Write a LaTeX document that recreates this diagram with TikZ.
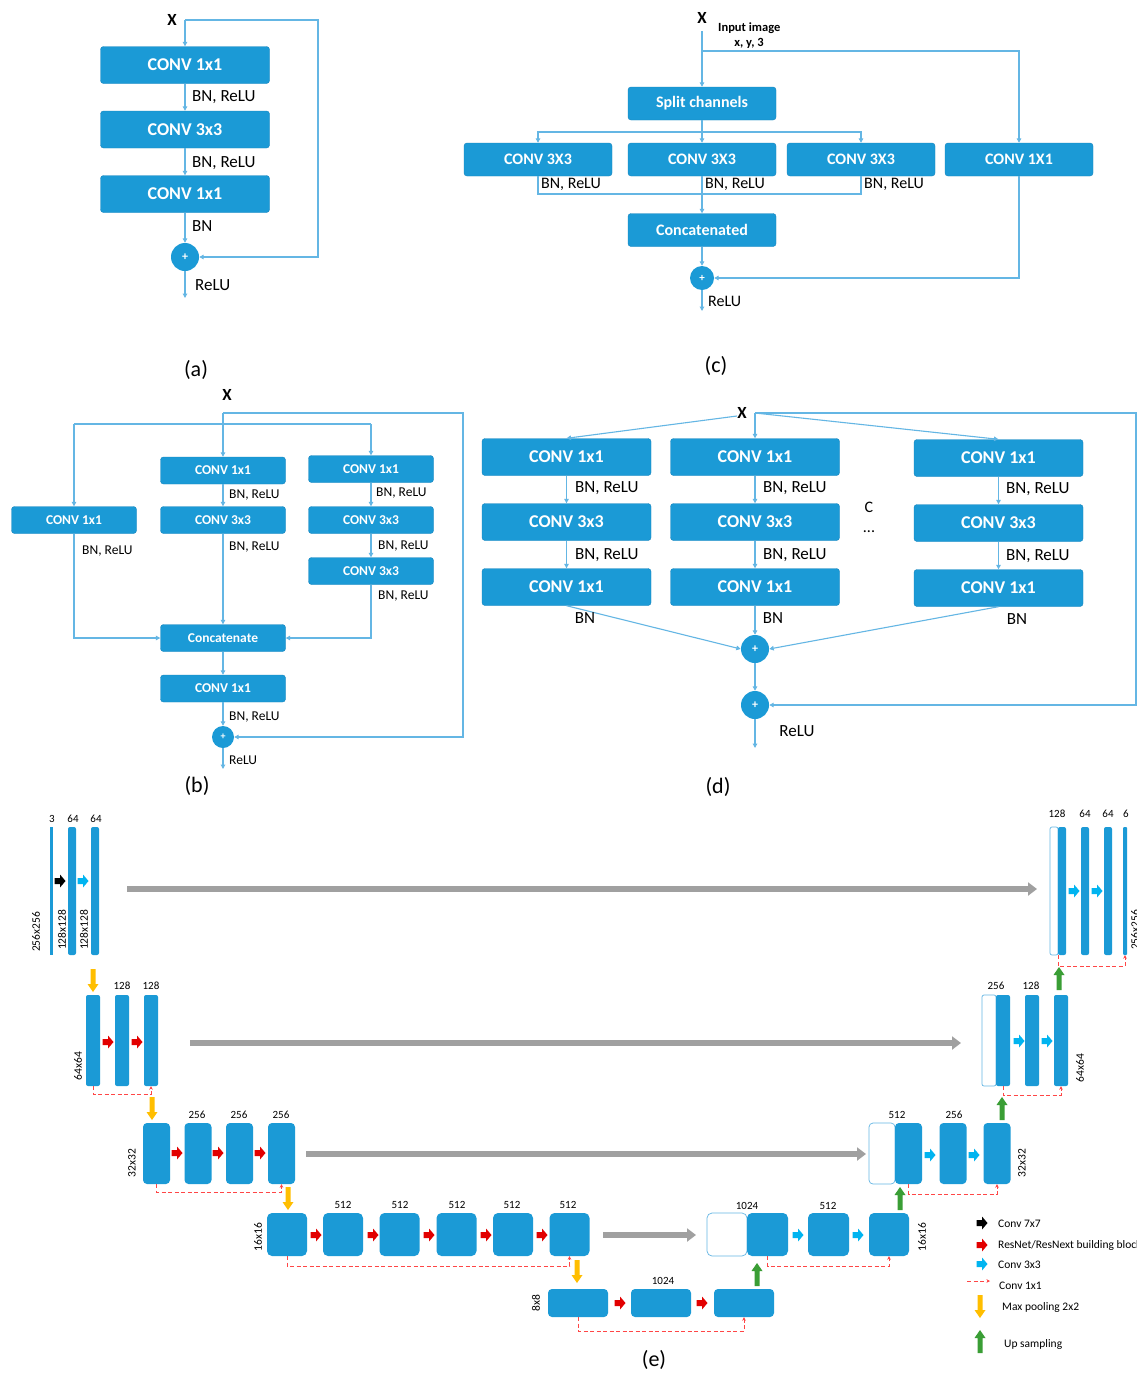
\documentclass[tikz,border=0pt]{standalone}
\usepackage{fontspec}
\setmainfont{Carlito}
\usetikzlibrary{arrows.meta}
\definecolor{boxblue}{RGB}{27,154,214}
\definecolor{boxedge}{RGB}{22,132,190}
\definecolor{lineblue}{RGB}{100,182,228}
\definecolor{arrred}{RGB}{226,0,0}
\definecolor{arrcyan}{RGB}{0,180,240}
\definecolor{arryel}{RGB}{255,190,0}
\definecolor{arrgreen}{RGB}{58,158,53}
\definecolor{skipgray}{RGB}{160,160,160}
\definecolor{dashred}{RGB}{255,70,70}
\tikzset{
 box/.style={rectangle, rounded corners=3pt, fill=boxblue, draw=boxedge, line width=0.4pt, text=white, inner sep=0pt},
 boxL/.style={box, minimum width=169pt, minimum height=37pt, font=\bfseries\fontsize{18}{18}\selectfont},
 boxC/.style={box, minimum width=148pt, minimum height=33pt, font=\bfseries\fontsize{16}{16}\selectfont},
 boxB/.style={box, minimum width=125pt, minimum height=27pt, font=\bfseries\fontsize{13.5}{13.5}\selectfont},
 sumL/.style={circle, fill=boxblue, text=white, inner sep=0pt, minimum size=28pt, font=\bfseries\fontsize{12}{12}\selectfont},
 sumC/.style={circle, fill=boxblue, text=white, inner sep=0pt, minimum size=24pt, font=\bfseries\fontsize{11}{11}\selectfont},
 sumB/.style={circle, fill=boxblue, text=white, inner sep=0pt, minimum size=22pt, font=\bfseries\fontsize{10}{10}\selectfont},
 cline/.style={draw=lineblue, line width=1.1pt},
 cl/.style={cline, -{Triangle[length=4.5pt,width=4.5pt]}},
 xl/.style={font=\bfseries\fontsize{17}{17}\selectfont, inner sep=0pt},
 lblA/.style={font=\fontsize{17}{17}\selectfont, inner sep=0pt},
 lblC/.style={font=\fontsize{16}{16}\selectfont, inner sep=0pt},
 lblB/.style={font=\fontsize{13.5}{13.5}\selectfont, inner sep=0pt},
 smallb/.style={font=\bfseries\fontsize{12.5}{12.5}\selectfont, inner sep=0pt},
 capt/.style={font=\fontsize{22}{22}\selectfont, inner sep=0pt},
 elbl/.style={font=\fontsize{11}{11}\selectfont, inner sep=0pt},
 rlbl/.style={font=\fontsize{11.5}{11.5}\selectfont, inner sep=0pt, rotate=90},
 legtxt/.style={font=\fontsize{11.5}{11.5}\selectfont, inner sep=0pt, anchor=west},
 ebar/.style={rectangle, fill=boxblue, rounded corners=2pt, inner sep=0pt},
 wbar/.style={rectangle, draw=lineblue, fill=white, line width=0.7pt, rounded corners=2pt, inner sep=0pt},
 skiparr/.style={draw=skipgray, line width=5.5pt, -{Triangle[length=9pt,width=13pt]}},
 rdash/.style={draw=dashred, line width=0.9pt, dash pattern=on 4pt off 2.5pt, -{Stealth[length=3.5pt,width=3.5pt]}},
 rarr/.pic={\fill[pic actions] (-5.5,-3) -- (0,-3) -- (0,-6.5) -- (5.5,0) -- (0,6.5) -- (0,3) -- (-5.5,3) -- cycle;},
 darr/.pic={\fill[pic actions] (-2.5,0) -- (2.5,0) -- (2.5,15) -- (5.5,15) -- (0,23) -- (-5.5,15) -- (-2.5,15) -- cycle;},
 uarr/.pic={\fill[pic actions] (-2.5,0) -- (2.5,0) -- (2.5,-15) -- (5.5,-15) -- (0,-23) -- (-5.5,-15) -- (-2.5,-15) -- cycle;}
}
\begin{document}
\begin{tikzpicture}[x=1pt,y=-1pt]
\useasboundingbox (0,0) rectangle (1137,1373);
\fill[white] (0,0) rectangle (1137,1373);

%% ---------------- (a) ----------------
\node[xl] (aX) at (172,20) {X};
\coordinate (a0) at (185,20);
\node[boxL] (a1) at (185,65) {CONV 1x1};
\node[boxL] (a2) at (185,129.5) {CONV 3x3};
\node[boxL] (a3) at (185,194) {CONV 1x1};
\node[sumL] (aS) at (185,257) {+};
\coordinate (aO) at (185,298);
\draw[cl] (a0) -- (a1);
\draw[cl] (a1) -- (a2);
\draw[cl] (a2) -- (a3);
\draw[cl] (a3) -- (aS);
\draw[cl] (aS) -- (aO);
\draw[cl] (a0) -- ++(133,0) |- (aS);
\node[lblA, anchor=west] (aL1) at (192,97) {BN, ReLU};
\node[lblA, anchor=west] (aL2) at (192,163) {BN, ReLU};
\node[lblA, anchor=west] (aL3) at (192,226) {BN};
\node[lblA, anchor=west] (aL4) at (195,285) {ReLU};
\node[capt] (aC) at (196,370) {(a)};

%% ---------------- (c) ----------------
\node[xl] (cX) at (702,18) {X};
\coordinate (c0) at (702,31);
\coordinate (cT) at (702,51);
\node[smallb, anchor=west] (cI1) at (718,28) {Input image};
\node[smallb] (cI2) at (749,43) {x, y, 3};
\node[boxC] (cS) at (702,103.5) {Split channels};
\coordinate (cB) at (702,132);
\node[boxC] (c1) at (538,159.5) {CONV 3X3};
\node[boxC] (c2) at (702,159.5) {CONV 3X3};
\node[boxC] (c3) at (861,159.5) {CONV 3X3};
\node[boxC] (c4) at (1019,159.5) {CONV 1X1};
\coordinate (cJ) at (702,194);
\node[boxC] (cK) at (702,230) {Concatenated};
\node[sumC] (cSum) at (702,278) {+};
\coordinate (cO) at (702,311);
\draw[cline] (c0) -- (cT);
\draw[cl] (cT) -- (cS);
\draw[cl] (cT) -| (c4);
\draw[cline] (cS) -- (cB);
\draw[cl] (cB) -| (c1);
\draw[cl] (cB) -- (c2);
\draw[cl] (cB) -| (c3);
\draw[cline] (c1) |- (cJ);
\draw[cline] (c3) |- (cJ);
\draw[cl] (c2) -- (cK);
\draw[cl] (cK) -- (cSum);
\draw[cl] (c4) |- (cSum);
\draw[cl] (cSum) -- (cO);
\node[lblC, anchor=west] (cL1) at (541,184) {BN, ReLU};
\node[lblC, anchor=west] (cL2) at (705,184) {BN, ReLU};
\node[lblC, anchor=west] (cL3) at (864,184) {BN, ReLU};
\node[lblC, anchor=west] (cL4) at (708,301) {ReLU};
\node[capt] (cC) at (716,366) {(c)};

%% ---------------- (b) ----------------
\node[xl] (bX) at (227,395) {X};
\coordinate (b0) at (223,413);
\coordinate (bL) at (74,424);
\coordinate (bR) at (371,424);
\node[boxB] (bl) at (74,520) {CONV 1x1};
\node[boxB] (bm1) at (223,470.5) {CONV 1x1};
\node[boxB] (bm2) at (223,520) {CONV 3x3};
\node[boxB] (bcat) at (223,638) {Concatenate};
\node[boxB] (bm3) at (223,688.5) {CONV 1x1};
\node[boxB] (br1) at (371,469) {CONV 1x1};
\node[boxB] (br2) at (371,520) {CONV 3x3};
\node[boxB] (br3) at (371,571) {CONV 3x3};
\node[sumB] (bS) at (223,737) {+};
\coordinate (bO) at (223,769);
\draw[cl] (b0) -- (bm1);
\draw[cline] (bL) -- (bR);
\draw[cl] (bL) -- (bl);
\draw[cl] (bR) -- (br1);
\draw[cl] (bm1) -- (bm2);
\draw[cl] (bm2) -- (bcat);
\draw[cl] (br1) -- (br2);
\draw[cl] (br2) -- (br3);
\draw[cl] (bl) |- (bcat);
\draw[cl] (br3) |- (bcat);
\draw[cl] (bcat) -- (bm3);
\draw[cl] (bm3) -- (bS);
\draw[cl] (bS) -- (bO);
\draw[cl] (b0) -- ++(240,0) |- (bS);
\node[lblB, anchor=west] (bL1) at (229,495) {BN, ReLU};
\node[lblB, anchor=west] (bL2) at (229,547) {BN, ReLU};
\node[lblB, anchor=west] (bL3) at (82,551) {BN, ReLU};
\node[lblB, anchor=west] (bL4) at (376,493) {BN, ReLU};
\node[lblB, anchor=west] (bL5) at (378,546) {BN, ReLU};
\node[lblB, anchor=west] (bL6) at (378,596) {BN, ReLU};
\node[lblB, anchor=west] (bL7) at (229,717) {BN, ReLU};
\node[lblB, anchor=west] (bL8) at (229,760) {ReLU};
\node[capt] (bC) at (197,786) {(b)};

%% ---------------- (d) ----------------
\node[xl] (dX) at (742,413) {X};
\coordinate (d0) at (755,413);
\coordinate (d0l) at (737,416);
\node[boxL] (d11) at (566.5,457) {CONV 1x1};
\node[boxL] (d12) at (566.5,522) {CONV 3x3};
\node[boxL] (d13) at (566.5,587) {CONV 1x1};
\node[boxL] (d21) at (755,457) {CONV 1x1};
\node[boxL] (d22) at (755,522) {CONV 3x3};
\node[boxL] (d23) at (755,587) {CONV 1x1};
\node[boxL] (d31) at (998.5,458) {CONV 1x1};
\node[boxL] (d32) at (998.5,523) {CONV 3x3};
\node[boxL] (d33) at (998.5,588) {CONV 1x1};
\node[sumL] (dS1) at (755,649) {+};
\node[sumL] (dS2) at (755,705) {+};
\coordinate (dO) at (755,748);
\draw[cl] (d0l) -- (d11.north);
\draw[cl] (d0) -- (d21);
\draw[cl] (d0) -- (d31.north);
\draw[cl] (d11) -- (d12);
\draw[cl] (d12) -- (d13);
\draw[cl] (d21) -- (d22);
\draw[cl] (d22) -- (d23);
\draw[cl] (d31) -- (d32);
\draw[cl] (d32) -- (d33);
\draw[cl] (d13.south) -- (dS1.west);
\draw[cl] (d23) -- (dS1);
\draw[cl] (d33.south) -- (dS1.east);
\draw[cl] (dS1) -- (dS2);
\draw[cl] (dS2) -- (dO);
\draw[cl] (d0) -- ++(381,0) |- (dS2);
\node[lblA, anchor=west] (dL1) at (575,488) {BN, ReLU};
\node[lblA, anchor=west] (dL2) at (575,555) {BN, ReLU};
\node[lblA, anchor=west] (dL3) at (763,488) {BN, ReLU};
\node[lblA, anchor=west] (dL4) at (763,555) {BN, ReLU};
\node[lblA, anchor=west] (dL5) at (1006,489) {BN, ReLU};
\node[lblA, anchor=west] (dL6) at (1006,556) {BN, ReLU};
\node[lblA] (dL7) at (585,618) {BN};
\node[lblA] (dL8) at (773,618) {BN};
\node[lblA] (dL9) at (1017,619) {BN};
\node[lblC] (dCc) at (869,507) {C};
\node[lblC] (dDots) at (869,532) {...};
\node[lblA] (dL10) at (797,731) {ReLU};
\node[capt] (dC) at (718,787) {(d)};

%% ---------------- (e) ----------------
% level 1
\node[ebar, rounded corners=0pt, minimum width=3pt, minimum height=128pt] (e1a) at (51.5,891) {};
\node[ebar, minimum width=8pt, minimum height=128pt] (e1b) at (72,891) {};
\node[ebar, minimum width=8pt, minimum height=128pt] (e1c) at (95,891) {};
\node[wbar, minimum width=8pt, minimum height=128pt] (f1w) at (1054,891) {};
\node[ebar, minimum width=8pt, minimum height=128pt] (f1a) at (1062,891) {};
\node[ebar, minimum width=8pt, minimum height=128pt] (f1b) at (1085,891) {};
\node[ebar, minimum width=8pt, minimum height=128pt] (f1c) at (1108,891) {};
\node[ebar, rounded corners=1pt, minimum width=4pt, minimum height=128pt] (f1d) at (1125,891) {};
\pic[fill=black] at (60,881) {rarr};
\pic[fill=arrcyan] at (83,881) {rarr};
\pic[fill=arrcyan] at (1074,891) {rarr};
\pic[fill=arrcyan] at (1097,891) {rarr};
\coordinate (g1s) at (127,889);
\coordinate (g1e) at (1037,889);
\draw[skiparr] (g1s) -- (g1e);
\draw[rdash] (f1w.south east) -- ++(0,11) -| (f1d.south);
\node[elbl] (t1a) at (52,819) {3};
\node[elbl] (t1b) at (73,819) {64};
\node[elbl] (t1c) at (96,819) {64};
\node[elbl] (t1d) at (1057,814) {128};
\node[elbl] (t1e) at (1085,814) {64};
\node[elbl] (t1f) at (1108,814) {64};
\node[elbl] (t1g) at (1126,814) {6};
\node[rlbl] (r1a) at (36,932) {256x256};
\node[rlbl] (r1b) at (62,930) {128x128};
\node[rlbl] (r1c) at (84,930) {128x128};
\node[rlbl] (r1d) at (1135,930) {256x256};
\pic[fill=arryel] at (93,969) {darr};
\pic[fill=arrgreen] at (1059,990) {uarr};

% level 2
\node[ebar, minimum width=14pt, minimum height=91pt] (e2a) at (93,1040.5) {};
\node[ebar, minimum width=14pt, minimum height=91pt] (e2b) at (122,1040.5) {};
\node[ebar, minimum width=14pt, minimum height=91pt] (e2c) at (151,1040.5) {};
\node[wbar, minimum width=14pt, minimum height=91pt] (f2w) at (989,1040.5) {};
\node[ebar, minimum width=14pt, minimum height=91pt] (f2a) at (1003,1040.5) {};
\node[ebar, minimum width=14pt, minimum height=91pt] (f2b) at (1032,1040.5) {};
\node[ebar, minimum width=14pt, minimum height=91pt] (f2c) at (1061,1040.5) {};
\pic[fill=arrred] at (108,1042) {rarr};
\pic[fill=arrred] at (137,1042) {rarr};
\pic[fill=arrcyan] at (1019,1041) {rarr};
\pic[fill=arrcyan] at (1047,1041) {rarr};
\coordinate (g2s) at (190,1043);
\coordinate (g2e) at (961,1043);
\draw[skiparr] (g2s) -- (g2e);
\draw[rdash] (e2a.south) -- ++(0,8) -| (e2c.south);
\draw[rdash] (f2a.south) -- ++(0,9) -| (f2c.south);
\node[elbl] (t2a) at (122,986) {128};
\node[elbl] (t2b) at (151,986) {128};
\node[elbl] (t2c) at (996,986) {256};
\node[elbl] (t2d) at (1031,986) {128};
\node[rlbl] (r2a) at (78,1066) {64x64};
\node[rlbl] (r2b) at (1080,1068) {64x64};
\pic[fill=arryel] at (152,1097) {darr};
\pic[fill=arrgreen] at (1002,1120) {uarr};

% level 3
\node[ebar, rounded corners=4pt, minimum width=27pt, minimum height=61pt] (e3a) at (156.5,1153.5) {};
\node[ebar, rounded corners=4pt, minimum width=27pt, minimum height=61pt] (e3b) at (198,1153.5) {};
\node[ebar, rounded corners=4pt, minimum width=27pt, minimum height=61pt] (e3c) at (239.5,1153.5) {};
\node[ebar, rounded corners=4pt, minimum width=27pt, minimum height=61pt] (e3d) at (281.5,1153.5) {};
\node[wbar, rounded corners=4pt, minimum width=26pt, minimum height=61pt] (f3w) at (882,1153.5) {};
\node[ebar, rounded corners=4pt, minimum width=27pt, minimum height=61pt] (f3a) at (908.5,1153.5) {};
\node[ebar, rounded corners=4pt, minimum width=27pt, minimum height=61pt] (f3b) at (953,1153.5) {};
\node[ebar, rounded corners=4pt, minimum width=27pt, minimum height=61pt] (f3c) at (997,1153.5) {};
\pic[fill=arrred] at (177,1153) {rarr};
\pic[fill=arrred] at (218,1153) {rarr};
\pic[fill=arrred] at (260,1153) {rarr};
\pic[fill=arrcyan] at (930,1155) {rarr};
\pic[fill=arrcyan] at (974,1155) {rarr};
\coordinate (g3s) at (306,1154);
\coordinate (g3e) at (866,1154);
\draw[skiparr] (g3s) -- (g3e);
\draw[rdash] (e3a.south) -- ++(0,8) -| (e3d.south);
\draw[rdash] (f3a.south) -- ++(0,10) -| (f3c.south);
\node[elbl] (t3a) at (197,1115) {256};
\node[elbl] (t3b) at (239,1115) {256};
\node[elbl] (t3c) at (281,1115) {256};
\node[elbl] (t3d) at (897,1115) {512};
\node[elbl] (t3e) at (954,1115) {256};
\node[rlbl] (r3a) at (132,1163) {32x32};
\node[rlbl] (r3b) at (1022,1163) {32x32};
\pic[fill=arryel] at (288,1187) {darr};
\pic[fill=arrgreen] at (900,1210) {uarr};

% level 4
\node[ebar, rounded corners=5pt, minimum width=40pt, minimum height=43pt] (e4a) at (287,1234.5) {};
\node[ebar, rounded corners=5pt, minimum width=40pt, minimum height=43pt] (e4b) at (343,1234.5) {};
\node[ebar, rounded corners=5pt, minimum width=40pt, minimum height=43pt] (e4c) at (399.5,1234.5) {};
\node[ebar, rounded corners=5pt, minimum width=40pt, minimum height=43pt] (e4d) at (456.5,1234.5) {};
\node[ebar, rounded corners=5pt, minimum width=40pt, minimum height=43pt] (e4e) at (513,1234.5) {};
\node[ebar, rounded corners=5pt, minimum width=40pt, minimum height=43pt] (e4f) at (569.5,1234.5) {};
\node[wbar, rounded corners=5pt, minimum width=40pt, minimum height=43pt] (f4w) at (727,1234.5) {};
\node[ebar, rounded corners=5pt, minimum width=41pt, minimum height=43pt] (f4a) at (767.5,1234.5) {};
\node[ebar, rounded corners=5pt, minimum width=41pt, minimum height=43pt] (f4b) at (828.5,1234.5) {};
\node[ebar, rounded corners=5pt, minimum width=40pt, minimum height=43pt] (f4c) at (889,1234.5) {};
\pic[fill=arrred] at (316,1235) {rarr};
\pic[fill=arrred] at (373,1235) {rarr};
\pic[fill=arrred] at (429,1235) {rarr};
\pic[fill=arrred] at (486,1235) {rarr};
\pic[fill=arrred] at (542,1235) {rarr};
\pic[fill=arrcyan] at (798,1235) {rarr};
\pic[fill=arrcyan] at (858,1235) {rarr};
\coordinate (g4s) at (603,1235);
\coordinate (g4e) at (696,1235);
\draw[skiparr] (g4s) -- (g4e);
\draw[rdash] (e4a.south) -- ++(0,10) -| (e4f.south);
\draw[rdash] (f4a.south) -- ++(0,10) -| (f4c.south);
\node[elbl] (t4a) at (343,1205) {512};
\node[elbl] (t4b) at (400,1205) {512};
\node[elbl] (t4c) at (457,1205) {512};
\node[elbl] (t4d) at (512,1205) {512};
\node[elbl] (t4e) at (568,1205) {512};
\node[elbl] (t4f) at (747,1206) {1024};
\node[elbl] (t4g) at (828,1206) {512};
\node[rlbl] (r4a) at (258,1237) {16x16};
\node[rlbl] (r4b) at (922,1237) {16x16};
\pic[fill=arryel] at (577,1260) {darr};
\pic[fill=arrgreen] at (757,1286) {uarr};

% level 5
\node[ebar, rounded corners=4pt, minimum width=60pt, minimum height=28pt] (e5a) at (578,1303) {};
\node[ebar, rounded corners=4pt, minimum width=60pt, minimum height=28pt] (e5b) at (661,1303) {};
\node[ebar, rounded corners=4pt, minimum width=60pt, minimum height=28pt] (e5c) at (744,1303) {};
\pic[fill=arrred] at (620,1303) {rarr};
\pic[fill=arrred] at (702,1303) {rarr};
\draw[rdash] (e5a.south) -- ++(0,14) -| (e5c.south);
\node[elbl] (t5a) at (663,1281) {1024};
\node[rlbl] (r5a) at (536,1303) {8x8};
\node[capt] (eC) at (654,1360) {(e)};

% legend
\pic[fill=black] at (982,1223) {rarr};
\node[legtxt] (lg1) at (998,1224) {Conv 7x7};
\pic[fill=arrred] at (982,1245) {rarr};
\node[legtxt] (lg2) at (998,1245) {ResNet/ResNext building block};
\pic[fill=arrcyan] at (982,1264) {rarr};
\node[legtxt] (lg3) at (998,1265) {Conv 3x3};
\coordinate (lg4a) at (967,1281);
\coordinate (lg4b) at (990,1281);
\draw[rdash] (lg4a) -- (lg4b);
\node[legtxt] (lg4) at (999,1286) {Conv 1x1};
\pic[fill=arryel] at (980,1295) {darr};
\node[legtxt] (lg5) at (1002,1307) {Max pooling 2x2};
\pic[fill=arrgreen] at (980,1353) {uarr};
\node[legtxt] (lg6) at (1004,1344) {Up sampling};
\end{tikzpicture}
\end{document}
